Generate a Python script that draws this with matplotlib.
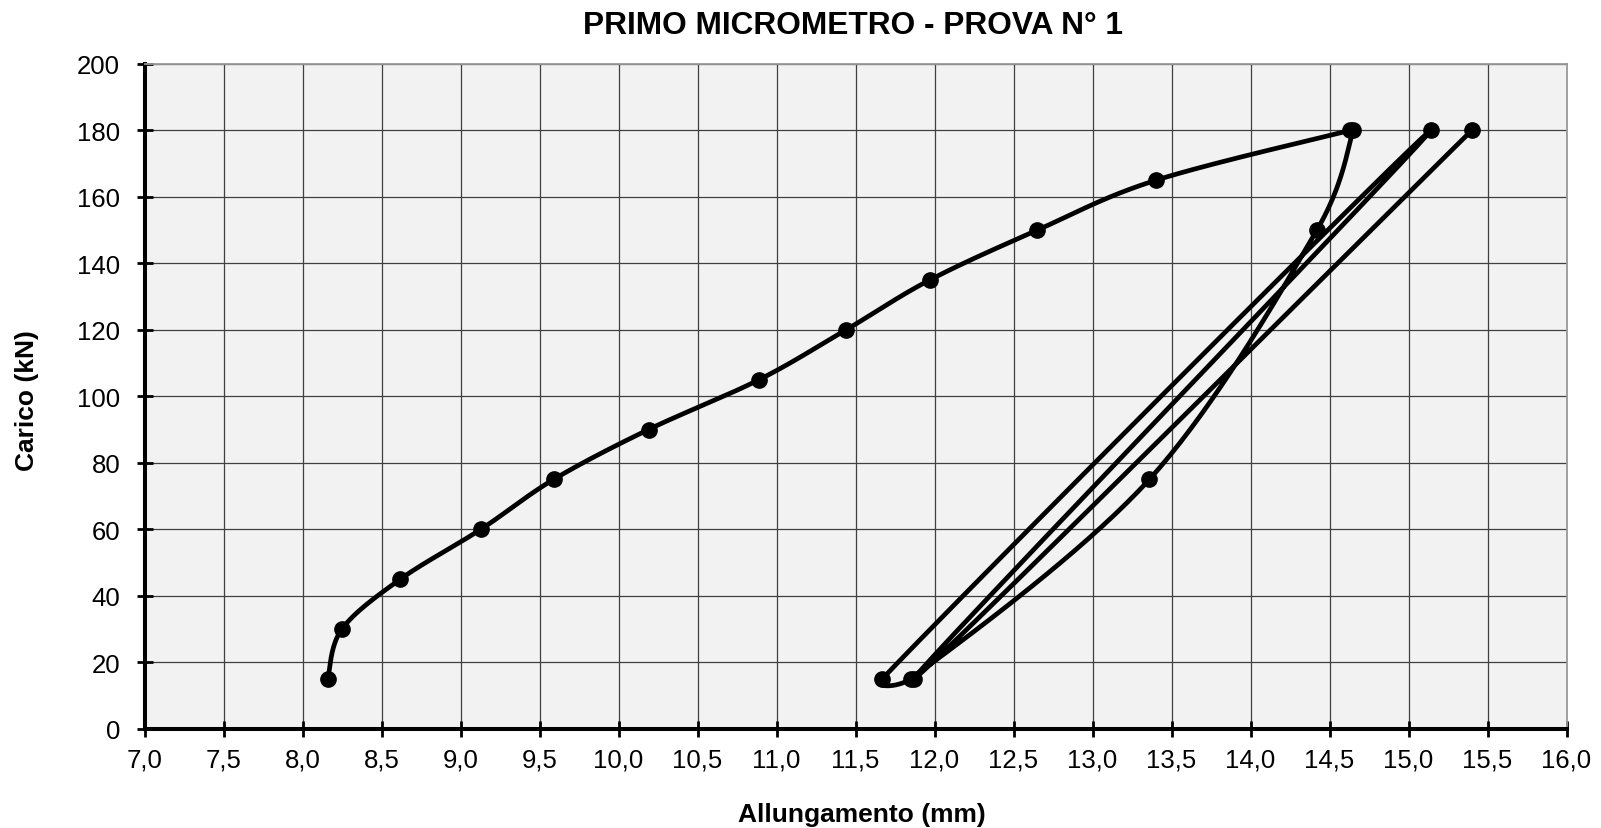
import numpy as np
import matplotlib.pyplot as plt

# allungamento (mm) e carico (kN), nell'ordine di acquisizione
allungamento = [8.16, 8.25, 8.62, 9.13, 9.59, 10.19, 10.89, 11.44, 11.97, 12.65, 13.40, 14.63, 14.65,
                14.42, 13.36, 11.85, 11.67, 15.14, 11.87, 15.40]
carico = [15, 30, 45, 60, 75, 90, 105, 120, 135, 150, 165, 180, 180,
          150, 75, 15, 15, 180, 15, 180]

x_ticks = np.arange(7.0, 16.01, 0.5)
y_ticks = np.arange(0, 201, 20)

plt.rcParams['font.family'] = ['Liberation Sans', 'DejaVu Sans']


def smooth_line(xs, ys, sx, sy, n=40):
    # bezier "linea smussata" tipo Excel, distanze calcolate in pixel
    P = np.column_stack([xs, ys]).astype(float)
    S = np.array([sx, sy])
    m = len(P)
    out = [P[:1]]
    for i in range(m - 1):
        p0 = P[i - 1] if i > 0 else P[i]
        p1 = P[i]
        p2 = P[i + 1]
        p3 = P[i + 2] if i + 2 < m else P[i + 1]
        d02 = np.hypot(*((p2 - p0) * S))
        d12 = np.hypot(*((p2 - p1) * S))
        d13 = np.hypot(*((p3 - p1) * S))
        f1 = 1 / 6 if d02 / 6 < d12 / 2 else d12 / (2 * d02)
        f2 = 1 / 6 if d13 / 6 < d12 / 2 else d12 / (2 * d13)
        c1 = p1 + f1 * (p2 - p0)
        c2 = p2 - f2 * (p3 - p1)
        t = np.linspace(0, 1, n)[1:, None]
        seg = (1 - t) ** 3 * p1 + 3 * (1 - t) ** 2 * t * c1 + 3 * (1 - t) * t ** 2 * c2 + t ** 3 * p2
        out.append(seg)
    pts = np.vstack(out)
    return pts[:, 0], pts[:, 1]


W, H = 1601, 829
fig = plt.figure(figsize=(W / 100, H / 100), dpi=100)
ax = fig.add_axes([144.5 / W, (H - 729.6) / H, 1422 / W, 664.6 / H])
ax.set_facecolor('#f2f2f2')
ax.set_xlim(7, 16)
ax.set_ylim(0, 200)

sx = 1422 / 9.0
sy = 664.6 / 200.0
xs, ys = smooth_line(allungamento, carico, sx, sy)
ax.plot(xs, ys, color='black', lw=3.4, solid_capstyle='round', solid_joinstyle='round',
        zorder=3, clip_on=False)
ax.plot(allungamento, carico, 'o', color='black', ms=11, zorder=4, clip_on=False)

ax.set_xticks(x_ticks)
ax.set_xticklabels([f"{v:.1f}".replace('.', ',') for v in x_ticks])
ax.set_yticks(y_ticks)
ax.tick_params(axis='both', direction='inout', length=11, width=2, labelsize=18.5, color='black')
ax.tick_params(axis='x', pad=8)
ax.tick_params(axis='y', pad=12)

ax.grid(True, color='#404040', lw=0.9)
ax.set_axisbelow(True)

for side in ['left', 'bottom']:
    ax.spines[side].set_linewidth(2.9)
    ax.spines[side].set_color('black')
for side in ['top', 'right']:
    ax.spines[side].set_linewidth(1.3)
    ax.spines[side].set_color('#999999')

fig.text(853 / W, 1 - 26 / H, "PRIMO MICROMETRO - PROVA N° 1", ha='center', va='center',
         fontsize=22.8, fontweight='bold')
fig.text(862 / W, 1 - 815 / H, "Allungamento (mm)", ha='center', va='center',
         fontsize=19, fontweight='bold')
fig.text(27 / W, 1 - 401 / H, "Carico (kN)", ha='center', va='center', rotation=90,
         fontsize=19, fontweight='bold')

fig.savefig('out.png', dpi=100)
